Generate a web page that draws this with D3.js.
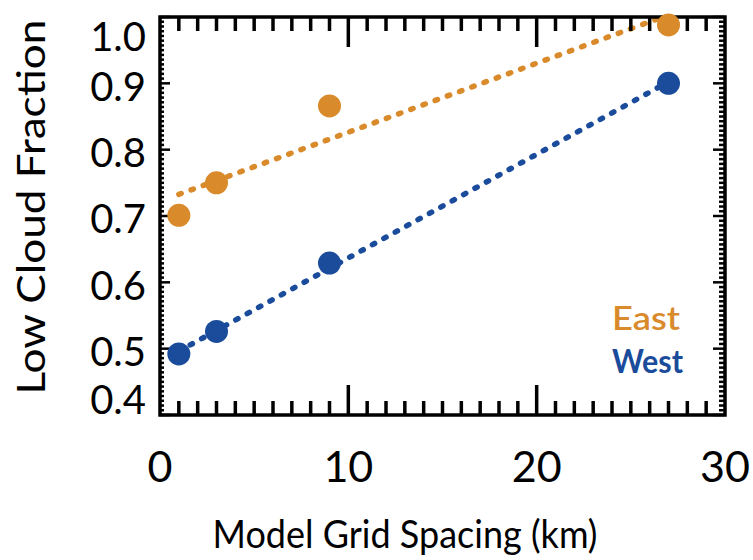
<!DOCTYPE html>
<html>
<head>
<meta charset="utf-8">
<script src="https://cdn.jsdelivr.net/npm/d3@7"></script>
<style>
  body { margin: 0; background: #fff; }
  text { font-family: Lato, "Open Sans", sans-serif; }
</style>
</head>
<body>
<div id="chart"></div>
<script>
const width = 753, height = 560;

// data
const gridSpacing = [1, 3, 9, 27];
const eastFraction = [0.701, 0.750, 0.866, 0.988];
const westFraction = [0.492, 0.526, 0.629, 0.900];
const seriesNames = ["East", "West"];
const seriesColors = ["#d98a2a", "#1a4c9b"];
const xTickValues = [0, 10, 20, 30];
const yTickValues = [0.4, 0.5, 0.6, 0.7, 0.8, 0.9, 1.0];

const plotL = 160, plotR = 725, plotT = 17, plotB = 415;

const x = d3.scaleLinear().domain([0, 30]).range([plotL, plotR]);
const y = d3.scaleLinear().domain([0.4, 1.0]).range([plotB, plotT]);

const svg = d3.select("#chart").append("svg")
  .attr("width", width)
  .attr("height", height);

svg.append("clipPath").attr("id", "plot")
  .append("rect").attr("x", plotL).attr("y", plotT)
  .attr("width", plotR - plotL).attr("height", plotB - plotT);

// least squares fit for the dotted trend lines
function fit(xs, ys) {
  const mx = d3.mean(xs), my = d3.mean(ys);
  let sxy = 0, sxx = 0;
  xs.forEach((v, i) => { sxy += (v - mx) * (ys[i] - my); sxx += (v - mx) * (v - mx); });
  const b = sxy / sxx;
  return v => my + b * (v - mx);
}

const series = [eastFraction, westFraction].map((vals, i) => ({
  name: seriesNames[i],
  color: seriesColors[i],
  points: gridSpacing.map((g, j) => [g, vals[j]]),
  line: fit(gridSpacing, vals)
}));

// trend lines
series.forEach(s => {
  const x0 = d3.min(gridSpacing), x1 = d3.max(gridSpacing);
  svg.append("line")
    .attr("clip-path", "url(#plot)")
    .attr("x1", x(x0)).attr("y1", y(s.line(x0)))
    .attr("x2", x(x1)).attr("y2", y(s.line(x1)))
    .attr("stroke", s.color)
    .attr("stroke-width", 5.5)
    .attr("stroke-linecap", "round")
    .attr("stroke-dasharray", "2.5,10.5");
});

// axes: ticks point inward, on all four sides
const tickStroke = "#000";
const xMinor = d3.range(1, 30);
xMinor.forEach(v => {
  const len = v % 10 === 0 ? 30 : 14;
  svg.append("line").attr("x1", x(v)).attr("x2", x(v))
    .attr("y1", plotB).attr("y2", plotB - len)
    .attr("stroke", tickStroke).attr("stroke-width", 3.5);
  svg.append("line").attr("x1", x(v)).attr("x2", x(v))
    .attr("y1", plotT).attr("y2", plotT + len)
    .attr("stroke", tickStroke).attr("stroke-width", 3.5);
});

const yMinor = d3.range(0, 6 * 14 + 1).map(i => 0.4 + i * 0.1 / 14);
yMinor.forEach((v, i) => {
  const major = i % 14 === 0;
  svg.append("line").attr("x1", plotL).attr("x2", plotL + (major ? 10 : 4))
    .attr("y1", y(v)).attr("y2", y(v))
    .attr("stroke", tickStroke).attr("stroke-width", 2.5);
  svg.append("line").attr("x1", plotR).attr("x2", plotR - (major ? 12 : 6))
    .attr("y1", y(v)).attr("y2", y(v))
    .attr("stroke", tickStroke).attr("stroke-width", 2.5);
});

svg.append("rect")
  .attr("x", plotL).attr("y", plotT)
  .attr("width", plotR - plotL).attr("height", plotB - plotT)
  .attr("fill", "none").attr("stroke", "#000").attr("stroke-width", 3.5);

// tick labels
svg.selectAll(".xlab").data(xTickValues).join("text")
  .attr("x", d => x(d))
  .attr("y", 482)
  .attr("text-anchor", "middle")
  .attr("font-size", 43)
  .text(d => d);

svg.selectAll(".ylab").data(yTickValues).join("text")
  .attr("x", 146)
  .attr("y", d => Math.min(Math.max(y(d) + 3, plotT + 20), plotB - 15))
  .attr("dy", "0.36em")
  .attr("text-anchor", "end")
  .attr("font-size", 40)
  .text(d => d.toFixed(1));

// axis titles
svg.append("text")
  .attr("x", 405).attr("y", 548)
  .attr("text-anchor", "middle")
  .attr("font-size", 38)
  .attr("textLength", 385).attr("lengthAdjust", "spacingAndGlyphs")
  .text("Model Grid Spacing (km)");

svg.append("text")
  .attr("transform", "translate(45,207) rotate(-90)")
  .attr("text-anchor", "middle")
  .attr("font-size", 38)
  .attr("textLength", 375).attr("lengthAdjust", "spacingAndGlyphs")
  .text("Low Cloud Fraction");

// points
series.forEach(s => {
  svg.selectAll(null).data(s.points).join("circle")
    .attr("cx", d => x(d[0]))
    .attr("cy", d => y(d[1]))
    .attr("r", 11.5)
    .attr("fill", s.color);
});

// legend
series.forEach((s, i) => {
  svg.append("text")
    .attr("x", 612).attr("y", 330 + i * 43)
    .attr("font-size", 33)
    .attr("font-weight", i === 1 ? 700 : 600)
    .attr("textLength", i === 0 ? 68 : 71).attr("lengthAdjust", "spacingAndGlyphs")
    .attr("fill", s.color)
    .text(s.name);
});
</script>
</body>
</html>
